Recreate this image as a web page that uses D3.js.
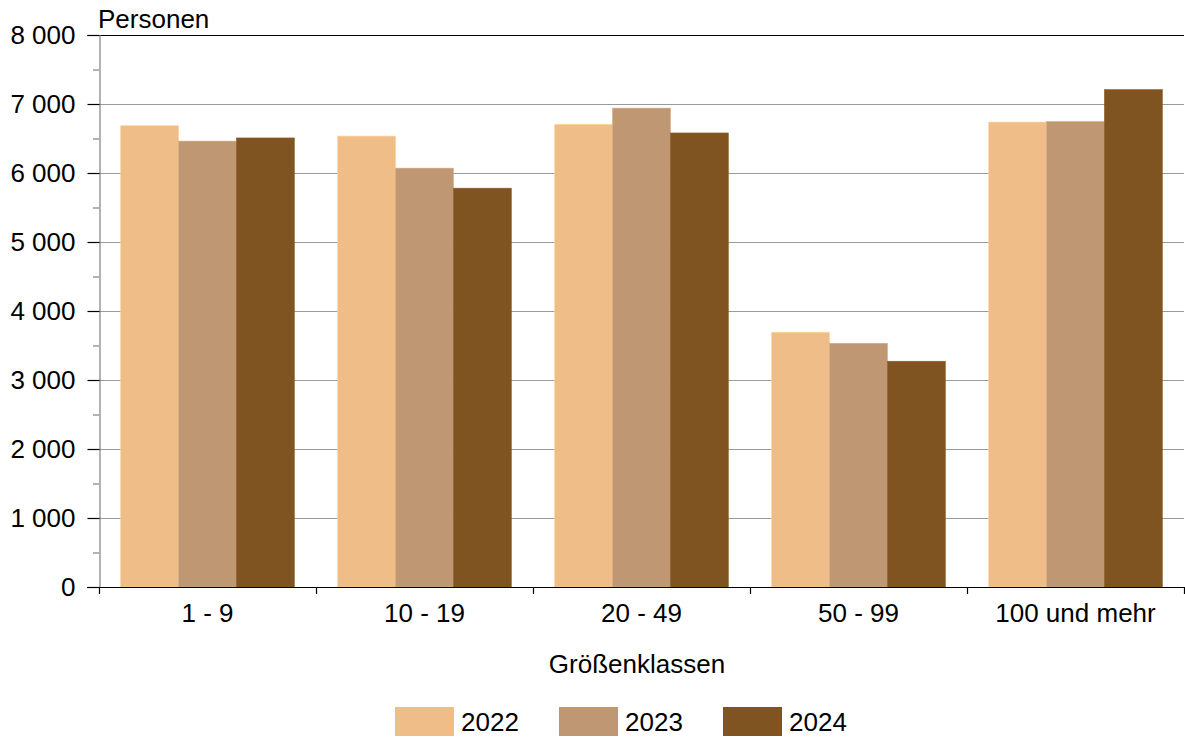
<!DOCTYPE html>
<html>
<head>
<meta charset="utf-8">
<script src="https://cdn.jsdelivr.net/npm/d3@7"></script>
<style>
  body { margin: 0; background: #fff; }
  svg text { font-family: "Liberation Sans", Arial, sans-serif; fill: #000; }
</style>
</head>
<body>
<svg id="chart" width="1185" height="738"></svg>
<script>
var categories = ['1 - 9', '10 - 19', '20 - 49', '50 - 99', '100 und mehr'];
var years = ['2022', '2023', '2024'];
var values2022 = [6685, 6535, 6705, 3692, 6738];
var values2023 = [6462, 6070, 6940, 3532, 6745];
var values2024 = [6508, 5780, 6580, 3272, 7208];
var yTicks = [0, 1000, 2000, 3000, 4000, 5000, 6000, 7000, 8000];

var colors = ['#efbd88', '#bf9873', '#7f5420'];
var series = [values2022, values2023, values2024];

var svg = d3.select('#chart');
var plotLeft = 99, plotRight = 1184, plotTop = 35, plotBottom = 587;
var fontSize = '26px';

var x = d3.scaleBand()
    .domain(categories)
    .range([plotLeft, plotRight])
    .paddingInner(0.2)
    .paddingOuter(0.1);

var xGroup = d3.scaleBand()
    .domain(years)
    .range([0, x.bandwidth()]);

var y = d3.scaleLinear()
    .domain([0, 8000])
    .range([plotBottom, plotTop]);

var fmt = function(d) { return d3.format(',')(d).replace(',', ' '); };

// grid lines
svg.append('g')
    .selectAll('line')
    .data(yTicks.slice(1, -1))
    .enter()
    .append('line')
    .attr('x1', plotLeft)
    .attr('x2', plotRight)
    .attr('y1', function(d) { return y(d) + 0.5; })
    .attr('y2', function(d) { return y(d) + 0.5; })
    .attr('stroke', '#9a9a9a')
    .attr('stroke-width', 1.2);

// top line
svg.append('line')
    .attr('x1', 87).attr('x2', plotRight)
    .attr('y1', y(8000) + 0.5).attr('y2', y(8000) + 0.5)
    .attr('stroke', '#000').attr('stroke-width', 1.2);

// bars
series.forEach(function(vals, i) {
    svg.append('g')
        .selectAll('rect')
        .data(vals)
        .enter()
        .append('rect')
        .attr('x', function(d, j) { return x(categories[j]) + xGroup(years[i]); })
        .attr('y', function(d) { return y(d); })
        .attr('width', xGroup.bandwidth())
        .attr('height', function(d) { return plotBottom - y(d); })
        .attr('fill', colors[i])
        .attr('stroke', d3.color(colors[i]).brighter(0.3))
        .attr('stroke-width', 0.6);
});

// y axis
var yAxis = d3.axisLeft(y)
    .tickValues(yTicks)
    .tickSize(12)
    .tickPadding(12)
    .tickFormat(fmt);

var gy = svg.append('g')
    .attr('transform', 'translate(' + (plotLeft + 0.5) + ',0)')
    .call(yAxis);
gy.select('.domain').attr('stroke', '#808080').attr('stroke-width', 1.2);
gy.selectAll('.tick line').attr('stroke', '#000').attr('stroke-width', 1.2);
gy.selectAll('.tick text')
    .style('font-size', fontSize)
    .style('font-family', '"Liberation Sans", Arial, sans-serif');

// minor ticks
svg.append('g')
    .selectAll('line')
    .data(d3.range(500, 8000, 1000))
    .enter()
    .append('line')
    .attr('x1', plotLeft - 6)
    .attr('x2', plotLeft)
    .attr('y1', function(d) { return y(d) + 0.5; })
    .attr('y2', function(d) { return y(d) + 0.5; })
    .attr('stroke', '#808080')
    .attr('stroke-width', 1.2);

// x axis
svg.append('line')
    .attr('x1', 87).attr('x2', plotRight)
    .attr('y1', plotBottom + 0.5).attr('y2', plotBottom + 0.5)
    .attr('stroke', '#000').attr('stroke-width', 1.2);

var step = (plotRight - plotLeft) / categories.length;
svg.append('g')
    .selectAll('line')
    .data(d3.range(categories.length + 1))
    .enter()
    .append('line')
    .attr('x1', function(d) { return plotLeft + d * step + 0.5; })
    .attr('x2', function(d) { return plotLeft + d * step + 0.5; })
    .attr('y1', plotBottom)
    .attr('y2', plotBottom + 7)
    .attr('stroke', '#000')
    .attr('stroke-width', 1.2);

svg.append('g')
    .selectAll('text')
    .data(categories)
    .enter()
    .append('text')
    .attr('x', function(d) { return x(d) + x.bandwidth() / 2; })
    .attr('y', 622)
    .attr('text-anchor', 'middle')
    .style('font-size', fontSize)
    .text(function(d) { return d; });

// axis titles
svg.append('text')
    .attr('x', 98).attr('y', 28)
    .style('font-size', fontSize)
    .text('Personen');

svg.append('text')
    .attr('x', 637).attr('y', 673)
    .attr('text-anchor', 'middle')
    .style('font-size', fontSize)
    .text('Größenklassen');

// legend
var legendX = [395, 559, 723];
var legend = svg.append('g')
    .selectAll('g')
    .data(years)
    .enter()
    .append('g')
    .attr('transform', function(d, i) { return 'translate(' + legendX[i] + ',707)'; });

legend.append('rect')
    .attr('width', 59)
    .attr('height', 29)
    .attr('fill', function(d, i) { return colors[i]; });

legend.append('text')
    .attr('x', 66)
    .attr('y', 24)
    .style('font-size', fontSize)
    .text(function(d) { return d; });
</script>
</body>
</html>
